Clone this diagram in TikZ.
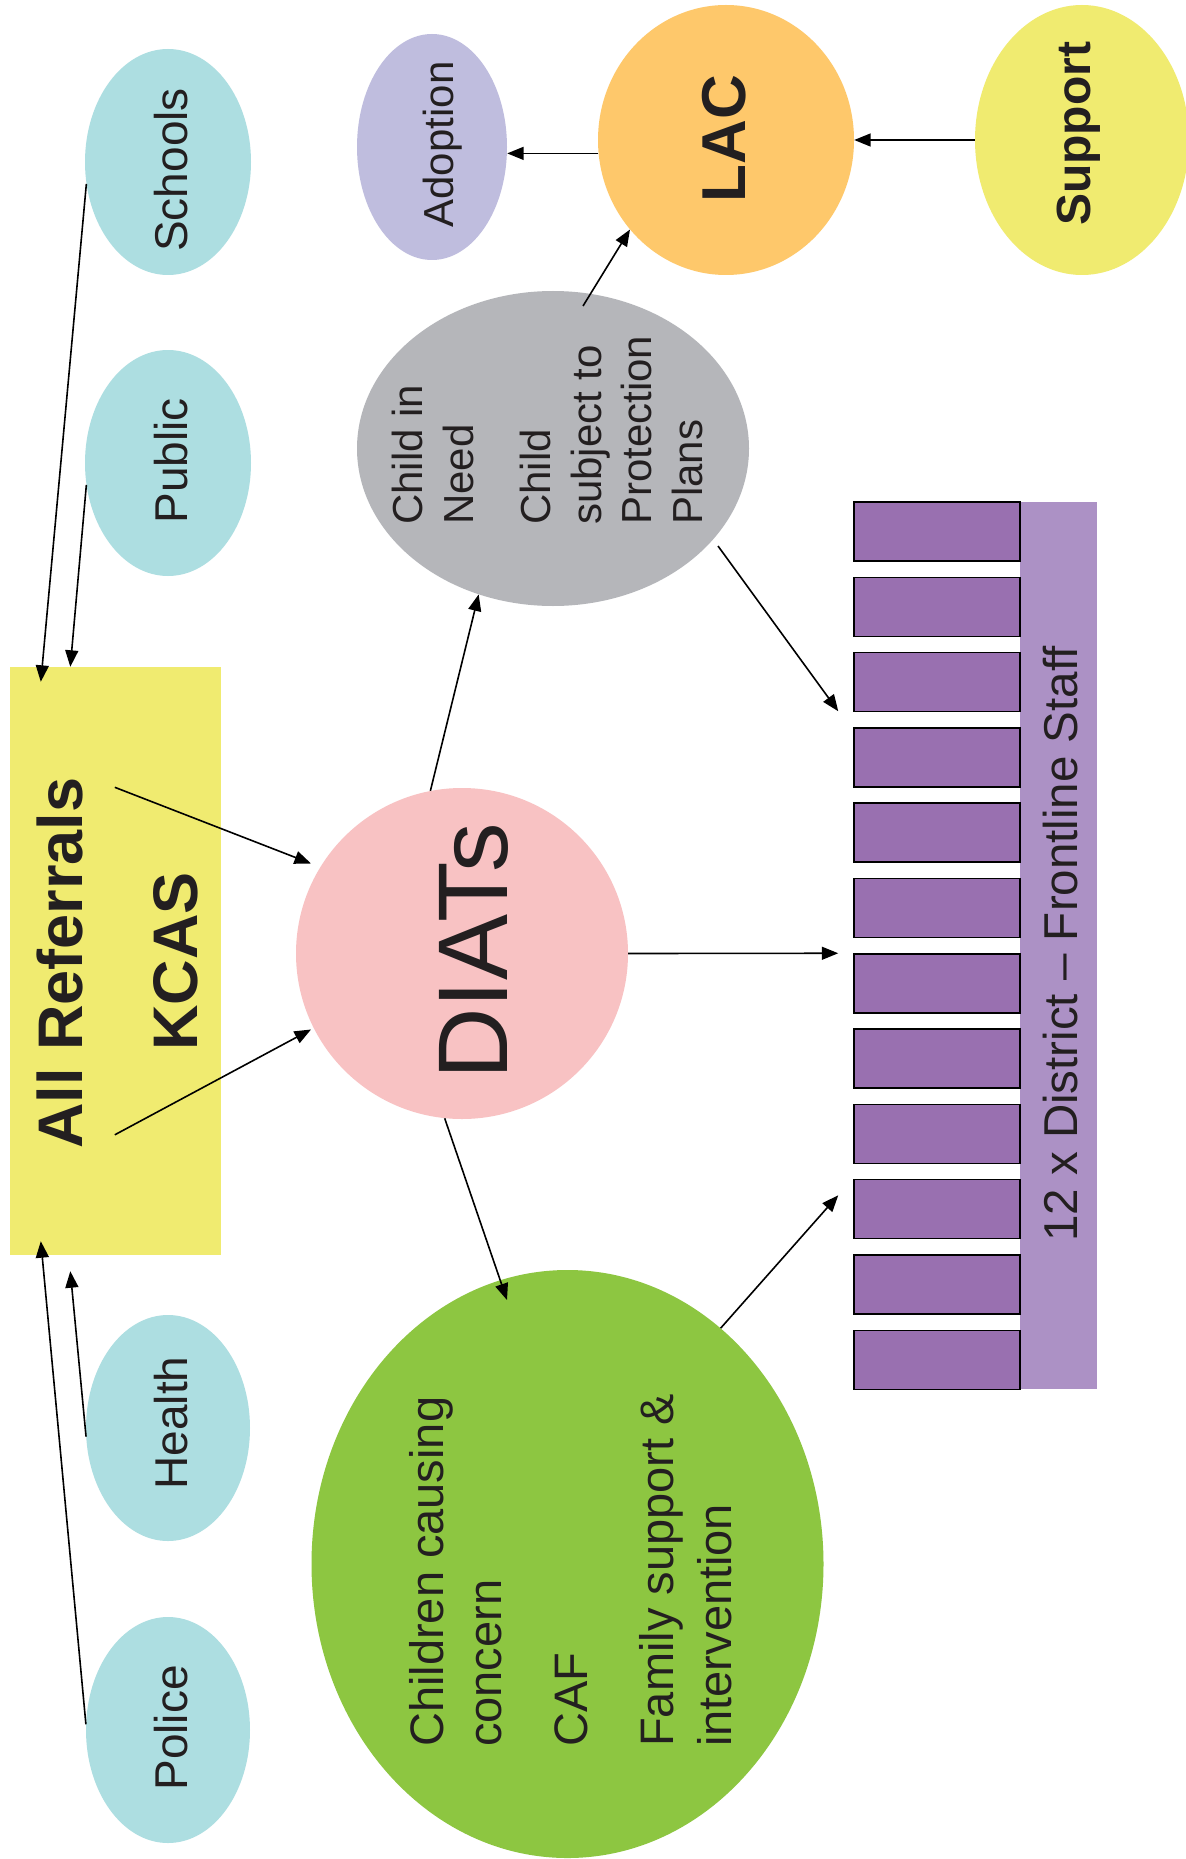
\documentclass[tikz,border=0pt]{standalone}
\usepackage{fontspec}
\setmainfont{Liberation Sans}
\usetikzlibrary{shapes.geometric,arrows.meta,calc}
\definecolor{txt}{HTML}{231F20}
\definecolor{cyanc}{HTML}{ADDEE1}
\definecolor{lavc}{HTML}{BFBDDE}
\definecolor{orangec}{HTML}{FEC86B}
\definecolor{yelc}{HTML}{F0EB70}
\definecolor{pinkc}{HTML}{F8C2C3}
\definecolor{grayc}{HTML}{B5B6BA}
\definecolor{greenc}{HTML}{8DC641}
\definecolor{boxc}{HTML}{9970B0}
\definecolor{stripc}{HTML}{AC91C5}
\begin{document}
\begin{tikzpicture}[x=1pt,y=-1pt,
  blob/.style={ellipse, inner sep=0pt, draw=none},
  lbl/.style={rotate=90, inner sep=0pt, anchor=base, text=txt},
  block/.style={rotate=90, inner sep=0pt, anchor=north west, align=left, text=txt},
  arr/.style={line width=1.6pt, draw=black, -{Triangle[length=16.5pt,width=13pt]}},
  stafbox/.style={draw=black, line width=1.5pt, fill=boxc, minimum width=166pt, minimum height=59pt, inner sep=0pt}]
\useasboundingbox (0,0) rectangle (1185,1859);
\fill[white] (0,0) rectangle (1185,1859);

% shapes
\node[fill=yelc, minimum width=211pt, minimum height=588pt, inner sep=0pt] (kcas) at (115.5,961) {};
\node[blob, fill=cyanc, minimum width=166pt, minimum height=226pt] (schools) at (168,162) {};
\node[blob, fill=cyanc, minimum width=166pt, minimum height=226pt] (public) at (168,463) {};
\node[blob, fill=cyanc, minimum width=164pt, minimum height=226pt] (health) at (168,1428) {};
\node[blob, fill=cyanc, minimum width=164pt, minimum height=226pt] (police) at (168,1730) {};
\node[blob, fill=lavc, minimum width=150pt, minimum height=226pt] (adoption) at (432,147) {};
\node[blob, fill=orangec, minimum width=256pt, minimum height=270pt] (lac) at (726,140) {};
\node[blob, fill=yelc, minimum width=214pt, minimum height=270pt] (support) at (1082,140) {};
\node[blob, fill=grayc, minimum width=392pt, minimum height=315pt] (gray) at (553,448.5) {};
\node[blob, fill=pinkc, minimum width=332pt, minimum height=331pt] (diats) at (462,953.5) {};
\node[blob, fill=greenc, minimum width=512pt, minimum height=588pt] (green) at (567.5,1564) {};
\node[fill=stripc, minimum width=77pt, minimum height=887pt, inner sep=0pt] (strip) at (1058.5,945.5) {};
\foreach \i in {1,...,12} {
  \node[stafbox] (b\i) at (937,{531.5+75.3*(\i-1)}) {};
}

% texts
\node[lbl, font=\fontsize{46}{55}\selectfont] (tschools) at (187.5,170) {Schools};
\node[lbl, font=\fontsize{46}{55}\selectfont] (tpublic) at (187.5,461) {Public};
\node[lbl, font=\fontsize{46}{55}\selectfont] (thealth) at (187,1423) {Health};
\node[lbl, font=\fontsize{46}{55}\selectfont] (tpolice) at (187,1728) {Police};
\node[lbl, font=\fontsize{42}{50}\selectfont] (tadoption) at (453,144.5) {Adoption};
\node[lbl, font=\fontsize{62}{74}\selectfont\bfseries] (tlac) at (745,138.5) {LAC};
\node[lbl, font=\fontsize{48}{58}\selectfont\bfseries] (tsupport) at (1090,134) {Support};
\node[lbl, font=\fontsize{63}{76}\selectfont\bfseries] (tall) at (82,963) {All Referrals};
\node[lbl, font=\fontsize{63}{76}\selectfont\bfseries] (tkcas) at (197,961.5) {KCAS};
\node[lbl, font=\fontsize{99}{118}\selectfont] (tdiats) at (507,951.5) {DIATs};
\node[lbl, font=\fontsize{47.5}{57}\selectfont] (tstrip) at (1077,944) {12 x District -- Frontline Staff};
\node[block, font=\fontsize{42}{50.5}\selectfont] (tgray) at (392,525)
  {Child in\\Need\\[27pt]Child\\subject to\\Protection\\Plans};
\node[block, font=\fontsize{47}{58}\selectfont] (tgreen) at (409,1747)
  {Children causing\\concern\\[28pt]CAF\\[28pt]Family support \&\\intervention};

% connectors
\draw[arr] (schools.195) -- ($(kcas.north west)+(31,15)$);
\draw[arr] (public.195) -- ($(kcas.north west)+(60.5,0)$);
\draw[arr] (health.186) -- ($(kcas.south west)+(60.5,16)$);
\draw[arr] (police.176) -- ($(kcas.south west)+(31,-14)$);
\draw[arr] ($(kcas.north west)+(105,120.5)$) -- ($(diats.center)+(-151,-90)$);
\draw[arr] ($(kcas.north west)+(105,468)$) -- ($(diats.center)+(-151,76)$);
\draw[arr] (diats.101) -- (gray.243);
\draw[arr] (diats.264) -- ($(green.center)+(-60.5,-264)$);
\draw[arr] (diats.east) -- ($(b1.north west)+(-15,452)$);
\draw[arr] ($(gray.center)+(165,97.5)$) -- ($(b1.north west)+(-15,210)$);
\draw[arr] (green.57) -- ($(b1.north west)+(-15,694)$);
\draw[arr] (support.west) -- (lac.east);
\draw[arr] (lac.186) -- (lac.186 -| adoption.east);
\draw[arr] ($(gray.center)+(30,-142.5)$) -- (lac.223);
\end{tikzpicture}
\end{document}
